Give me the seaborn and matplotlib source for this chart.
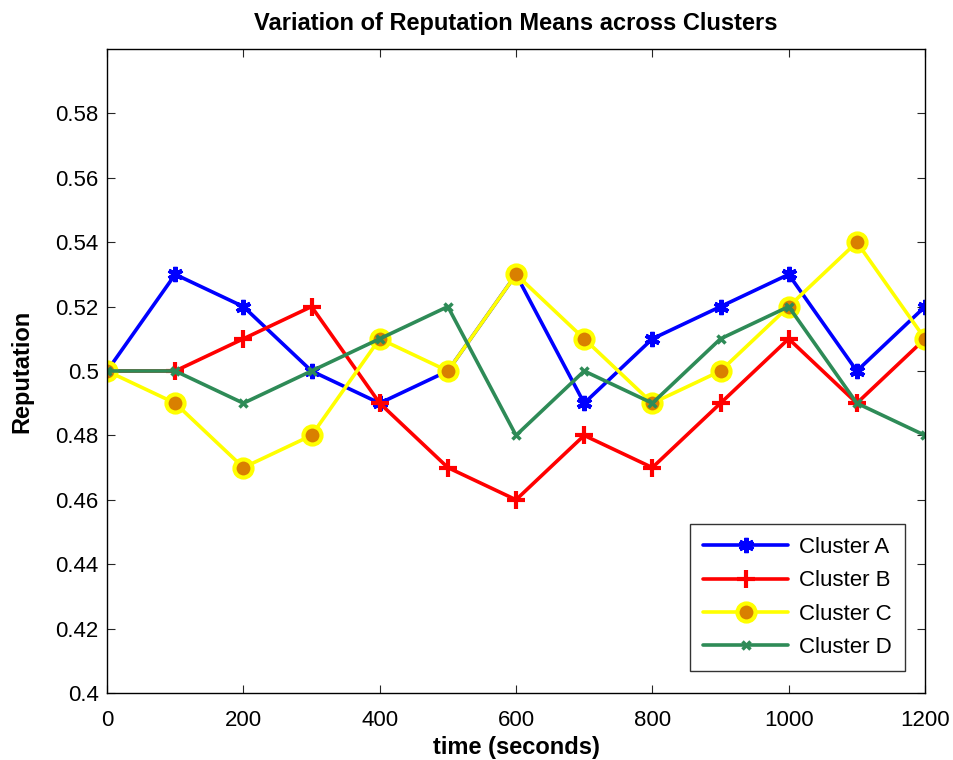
import numpy as np
import pandas as pd
import matplotlib
matplotlib.use("Agg")
import matplotlib.pyplot as plt
import seaborn as sns
from matplotlib.ticker import FormatStrFormatter

# ---------------- data ----------------
time_s = [0, 100, 200, 300, 400, 500, 600, 700, 800, 900, 1000, 1100, 1200]
cluster_a = [0.50, 0.53, 0.52, 0.50, 0.49, 0.50, 0.53, 0.49, 0.51, 0.52, 0.53, 0.50, 0.52]
cluster_b = [0.50, 0.50, 0.51, 0.52, 0.49, 0.47, 0.46, 0.48, 0.47, 0.49, 0.51, 0.49, 0.51]
cluster_c = [0.50, 0.49, 0.47, 0.48, 0.51, 0.50, 0.53, 0.51, 0.49, 0.50, 0.52, 0.54, 0.51]
cluster_d = [0.50, 0.50, 0.49, 0.50, 0.51, 0.52, 0.48, 0.50, 0.49, 0.51, 0.52, 0.49, 0.48]
labels = ["Cluster A", "Cluster B", "Cluster C", "Cluster D"]
x_ticks = [0, 200, 400, 600, 800, 1000, 1200]
y_ticks = [0.40, 0.42, 0.44, 0.46, 0.48, 0.50, 0.52, 0.54, 0.56, 0.58]

sns.set_style("white")
plt.rcParams["font.family"] = ["Liberation Sans", "DejaVu Sans"]
plt.rcParams["text.color"] = "black"
plt.rcParams["axes.labelcolor"] = "black"

fig = plt.figure(figsize=(9.54, 7.6), dpi=100)
ax = fig.add_axes([0.1122, 0.0882, 0.8574, 0.8473])

# ---------------- lines ----------------
sns.lineplot(x=time_s, y=cluster_a, ax=ax, color="#0000FF", lw=2.6,
             marker=(6, 2, 0), markersize=11, markeredgewidth=3,
             markeredgecolor="#0000FF", label=labels[0])
sns.lineplot(x=time_s, y=cluster_b, ax=ax, color="#FF0000", lw=2.6,
             marker="+", markersize=13, markeredgewidth=3,
             markeredgecolor="#FF0000", label=labels[1])
sns.lineplot(x=time_s, y=cluster_c, ax=ax, color="#FFFF00", lw=2.6,
             marker="o", markersize=13, markeredgewidth=3,
             markerfacecolor="#D98000", markeredgecolor="#FFFF00", label=labels[2])
sns.lineplot(x=time_s, y=cluster_d, ax=ax, color="#2E8B57", lw=2.6,
             marker="x", markersize=6, markeredgewidth=2.5,
             markeredgecolor="#2E8B57", label=labels[3])

# ---------------- axes ----------------
ax.set_xlim(0, 1200)
ax.set_ylim(0.4, 0.6)
ax.set_xticks(x_ticks)
ax.set_yticks(y_ticks)
ax.yaxis.set_major_formatter(FormatStrFormatter("%g"))
ax.tick_params(direction="in", length=6, width=0.8, labelsize=16, labelcolor="black",
               top=True, right=True, bottom=True, left=True, pad=6)
ax.tick_params(axis="x", pad=12)
for s in ax.spines.values():
    s.set_color("black")
    s.set_linewidth(1)

ax.set_title("Variation of Reputation Means across Clusters",
             fontsize=17, fontweight="bold", pad=14, color="black")
ax.set_xlabel("time (seconds)", fontsize=17, fontweight="bold", labelpad=4)
ax.set_ylabel("Reputation", fontsize=17, fontweight="bold", labelpad=16)

leg = ax.legend(loc="lower right", bbox_to_anchor=(0.9756, 0.034), borderaxespad=0,
                fontsize=16, frameon=True, fancybox=False, edgecolor="black",
                handlelength=3.8, borderpad=0.6, labelspacing=0.55, handletextpad=0.5)
leg.get_frame().set_linewidth(1)
for t in leg.get_texts():
    t.set_color("black")

fig.savefig("out.png", dpi=100)
